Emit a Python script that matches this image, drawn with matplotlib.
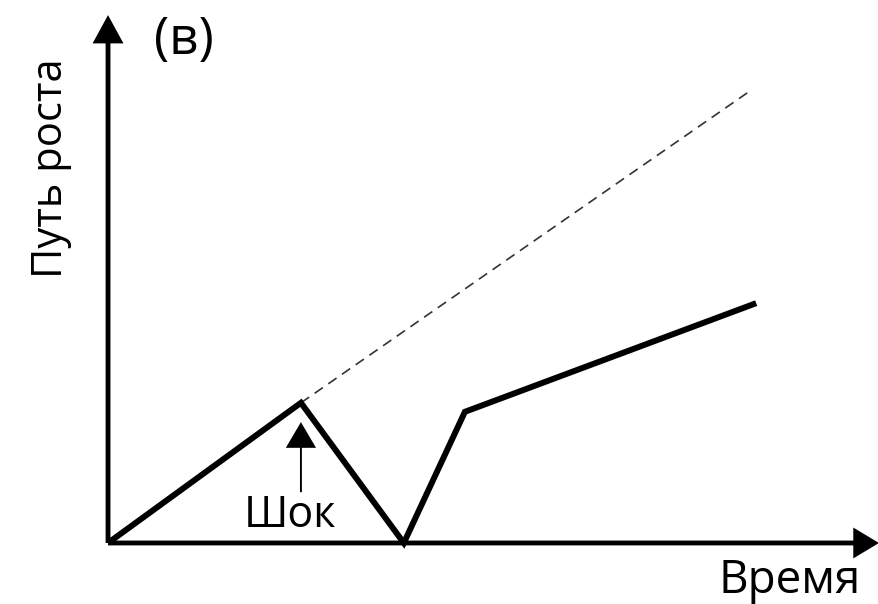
import matplotlib
matplotlib.use('Agg')
import matplotlib.pyplot as plt

plt.rcParams['font.family'] = ['Open Sans', 'DejaVu Sans']

# Data (time / growth path, arbitrary units)
time = [0, 3.0, 4.6, 5.55, 10.08]
growth = [0, 2.18, 0, 2.04, 3.73]

trend_time = [3.0, 9.94]
trend_growth = [2.18, 7.0]

shock_time = 3.0
shock_tip = 1.88
shock_tail = 0.79

# Figure
fig = plt.figure(figsize=(8.79, 6.04), dpi=100)
ax = fig.add_axes([0, 0, 1, 1])
ax.set_xlim(-1.68, 11.99)
ax.set_ylim(-0.949, 8.445)
ax.axis('off')

# axes with arrows
ax.arrow(0, 0, 0, 8.21, width=0.075, head_width=0.48, head_length=0.44,
         length_includes_head=True, color='black', lw=0)
ax.arrow(0, 0, 11.99, 0, width=0.075, head_width=0.48, head_length=0.40,
         length_includes_head=True, color='black', lw=0)

# trend line and actual path
ax.plot(trend_time, trend_growth, color='#333333', lw=1.2, ls=(0, (6, 4)))
ax.plot(time, growth, color='black', lw=4.3, solid_joinstyle='miter',
        solid_capstyle='butt')

# shock arrow
ax.arrow(shock_time, shock_tail, 0, shock_tip - shock_tail, width=0.03,
         head_width=0.47, head_length=0.40, length_includes_head=True,
         color='black', lw=0)

# labels
ax.text(1.18, 7.82, '(в)', fontsize=37, ha='center', va='center')
ax.text(10.60, -0.78, 'Время', fontsize=33, ha='center', va='baseline')
ax.text(2.83, 0.25, 'Шок', fontsize=31, ha='center', va='baseline')
ax.text(-0.715, 5.83, 'Путь роста', fontsize=30, rotation=90,
        rotation_mode='anchor', ha='center', va='baseline')

fig.savefig('out.png', dpi=100)
